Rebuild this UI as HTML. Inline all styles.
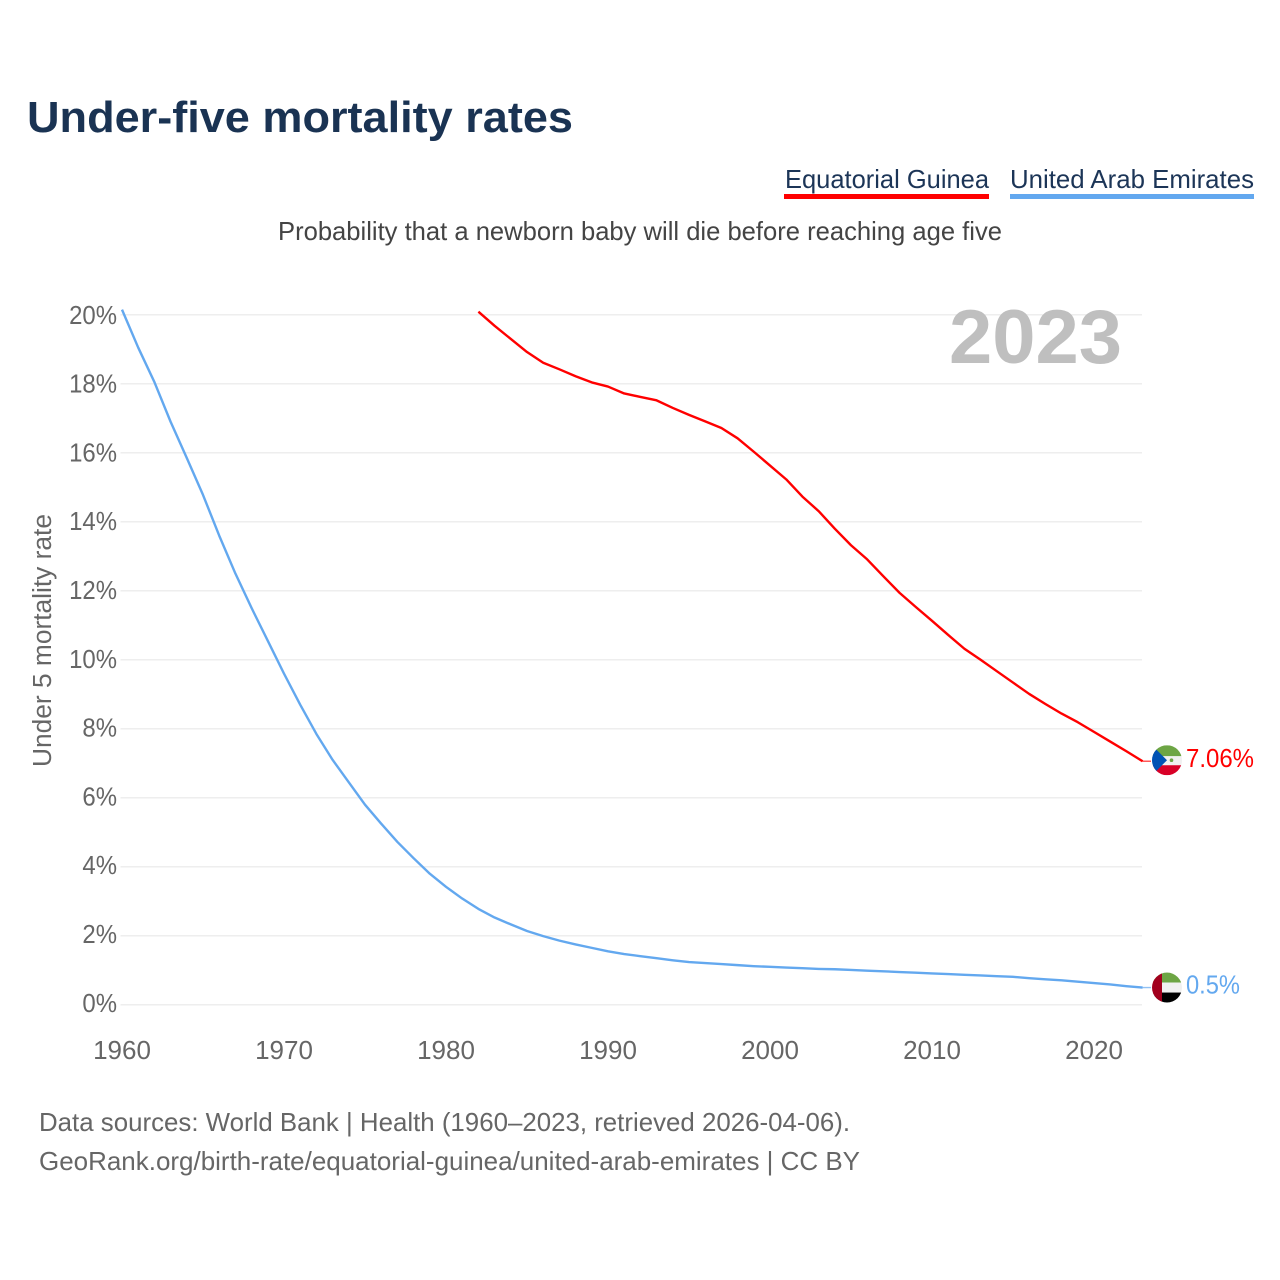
<!DOCTYPE html>
<html lang="en">
<head>
<meta charset="utf-8">
<title>Under-five mortality rates</title>
<style>
html,body{margin:0;padding:0;background:#fff;}
svg{display:block;font-family:"Liberation Sans",Arial,sans-serif;}
</style>
</head>
<body>
<svg id="chart" xmlns="http://www.w3.org/2000/svg" width="1280" height="1280" viewBox="0 0 1280 1280">
  <defs>
    <clipPath id="clip-gq"><circle id="clip-gq-circle" cx="1167" cy="760" r="15"></circle></clipPath>
    <clipPath id="clip-ae"><circle id="clip-ae-circle" cx="1167" cy="987" r="15"></circle></clipPath>
  </defs>
  <rect x="0" y="0" width="1280" height="1280" fill="#ffffff"></rect>
  <text x="27" y="132" font-size="44" font-weight="700" fill="#1a3353" textLength="546" lengthAdjust="spacingAndGlyphs">Under-five mortality rates</text>

  <g>
    <g>
      <text x="785" y="188" font-size="26" fill="#1c3557" textLength="204" lengthAdjust="spacingAndGlyphs">Equatorial Guinea</text>
      <rect x="784" y="194" width="205" height="5" fill="#ff0000"></rect>
    </g>
    <g>
      <text x="1010" y="188" font-size="26" fill="#1c3557" textLength="244" lengthAdjust="spacingAndGlyphs">United Arab Emirates</text>
      <rect x="1010" y="194" width="244" height="5" fill="#63a8ef"></rect>
    </g>
  </g>

  <text x="278" y="240" font-size="26" fill="#444444" textLength="724" lengthAdjust="spacingAndGlyphs">Probability that a newborn baby will die before reaching age five</text>
  <text transform="translate(51,767) rotate(-90)" x="0" y="0" font-size="25.5" fill="#666666" textLength="253" lengthAdjust="spacingAndGlyphs">Under 5 mortality rate</text>

  <g id="grid"></g>
  <g id="y-ticks"></g>
  <g id="x-ticks"></g>

  <text x="949" y="363" font-size="76" font-weight="700" fill="#bfbfbf" textLength="173" lengthAdjust="spacingAndGlyphs">2023</text>

  <g id="series"></g>
  <g id="ends"></g>

  <text x="39" y="1131" font-size="26" fill="#666666" textLength="811" lengthAdjust="spacingAndGlyphs">Data sources: World Bank | Health (1960–2023, retrieved 2026-04-06).</text>
  <text x="39" y="1170" font-size="26" fill="#666666" textLength="821" lengthAdjust="spacingAndGlyphs">GeoRank.org/birth-rate/equatorial-guinea/united-arab-emirates | CC BY</text>
</svg>

<script>
const yTickValues = [0, 2, 4, 6, 8, 10, 12, 14, 16, 18, 20];
const xTickYears = [1960, 1970, 1980, 1990, 2000, 2010, 2020];

const uaeStartYear = 1960;
const uaeValues = [
  20.15, 19.05, 18.05, 16.9, 15.85, 14.78, 13.6, 12.5, 11.5, 10.55,
  9.6, 8.7, 7.85, 7.1, 6.45, 5.8, 5.25, 4.72, 4.25, 3.8,
  3.42, 3.08, 2.78, 2.53, 2.33, 2.14, 1.99, 1.86, 1.75, 1.65,
  1.55, 1.47, 1.41, 1.35, 1.29, 1.24, 1.21, 1.18, 1.15, 1.12,
  1.1, 1.08, 1.06, 1.04, 1.03, 1.01, 0.99, 0.97, 0.95, 0.93,
  0.91, 0.89, 0.87, 0.85, 0.83, 0.81, 0.77, 0.74, 0.71, 0.67,
  0.63, 0.59, 0.54, 0.5
];

const gnqStartYear = 1982;
const gnqValues = [
  20.09, 19.68, 19.3, 18.92, 18.61, 18.42, 18.22, 18.04, 17.92, 17.72,
  17.62, 17.52, 17.3, 17.1, 16.91, 16.72, 16.42, 16.03, 15.63, 15.23,
  14.73, 14.31, 13.8, 13.32, 12.91, 12.42, 11.94, 11.53, 11.13, 10.72,
  10.32, 10.0, 9.67, 9.34, 9.01, 8.72, 8.44, 8.19, 7.91, 7.63,
  7.35, 7.06
];

const endLabels = ["7.06%", "0.5%"];

const NS = "http://www.w3.org/2000/svg";
function xScale(year) { return 122 + (year - 1960) * 16.2; }
function yScale(value) { return 1004.8 - value * 34.5; }
function make(tag, parent, attrs) {
  const el = document.createElementNS(NS, tag);
  for (const k in attrs) el.setAttribute(k, attrs[k]);
  parent.appendChild(el);
  return el;
}
function squeeze(el, factor) {
  el.setAttribute("textLength", (el.getComputedTextLength() * factor).toFixed(1));
  el.setAttribute("lengthAdjust", "spacingAndGlyphs");
}

const grid = document.getElementById("grid");
const yTicks = document.getElementById("y-ticks");
const xTicks = document.getElementById("x-ticks");
const seriesG = document.getElementById("series");
const ends = document.getElementById("ends");
const xEnd = xScale(2023);

yTickValues.forEach(function (v) {
  const line = make("line", grid, { x1: 120.5, x2: 1142, y1: yScale(v), y2: yScale(v), stroke: "#ececec", "stroke-width": 1.4 });
  
  
  const t = make("text", yTicks, { x: 117, y: yScale(v) + 9 - (20 - v) * 0.1, "text-anchor": "end", "font-size": 26, fill: "#666666" });
  
  
  t.textContent = v + "%";
  squeeze(t, 0.92);
});

xTickYears.forEach(function (year) {
  const t = make("text", xTicks, { x: xScale(year), y: 1059, "text-anchor": "middle", "font-size": 26, fill: "#666666" });
  
  
  t.textContent = year;
});

function pathFor(values, startYear) {
  return values.map(function (v, i) {
    return (i ? "L" : "M") + xScale(startYear + i).toFixed(2) + " " + yScale(v).toFixed(2);
  }).join(" ");
}

const uaeLine = make("path", seriesG, { d: pathFor(uaeValues, uaeStartYear), fill: "none", stroke: "#63a8ef", "stroke-width": 2.4, "stroke-linejoin": "round" });



const gnqLine = make("path", seriesG, { d: pathFor(gnqValues, gnqStartYear), fill: "none", stroke: "#ff0000", "stroke-width": 2.4, "stroke-linejoin": "round" });



/* end connectors */
const gnqLast = yScale(gnqValues[gnqValues.length - 1]);
const uaeLast = yScale(uaeValues[uaeValues.length - 1]);

const gnqConn = make("line", ends, { x1: xEnd, x2: 1151, y1: gnqLast, y2: gnqLast, stroke: "#ff0000", "stroke-width": 1.4, opacity: 0.7 });


const uaeConn = make("line", ends, { x1: xEnd, x2: 1151, y1: uaeLast, y2: uaeLast, stroke: "#63a8ef", "stroke-width": 1.4, opacity: 0.7 });



/* Equatorial Guinea flag */
const cx = 1167, gy = gnqLast - 1, ay = uaeLast;
document.getElementById("clip-gq-circle").setAttribute("cy", gy);
document.getElementById("clip-ae-circle").setAttribute("cy", ay);

const gqFlag = make("g", ends, { "clip-path": "url(#clip-gq)" });


make("rect", gqFlag, { x: cx - 15, y: gy - 15, width: 30, height: 11, fill: "#6da544" });
make("rect", gqFlag, { x: cx - 15, y: gy - 4, width: 30, height: 9, fill: "#f0f0f0" });
make("rect", gqFlag, { x: cx - 15, y: gy + 5, width: 30, height: 10, fill: "#d80027" });
make("polygon", gqFlag, { points: (cx - 15) + "," + (gy - 15) + " " + cx + "," + gy + " " + (cx - 15) + "," + (gy + 15), fill: "#0052b4" });
make("circle", gqFlag, { cx: cx + 4.5, cy: gy, r: 1.8, fill: "#6da544" });

const gqLabel = make("text", ends, { x: 1186, y: gnqLast + 6, "font-size": 26, fill: "#ff0000", textLength: 68, lengthAdjust: "spacingAndGlyphs" });


gqLabel.textContent = endLabels[0];

/* UAE flag */
const aeFlag = make("g", ends, { "clip-path": "url(#clip-ae)" });


make("rect", aeFlag, { x: cx - 15, y: ay - 15, width: 30, height: 10, fill: "#6da544" });
make("rect", aeFlag, { x: cx - 15, y: ay - 5, width: 30, height: 10, fill: "#f0f0f0" });
make("rect", aeFlag, { x: cx - 15, y: ay + 5, width: 30, height: 10, fill: "#000000" });
make("rect", aeFlag, { x: cx - 15, y: ay - 15, width: 10, height: 30, fill: "#a2001d" });

const aeLabel = make("text", ends, { x: 1186, y: uaeLast + 6, "font-size": 26, fill: "#63a8ef", textLength: 54, lengthAdjust: "spacingAndGlyphs" });


aeLabel.textContent = endLabels[1];
</script>
</body>
</html>
